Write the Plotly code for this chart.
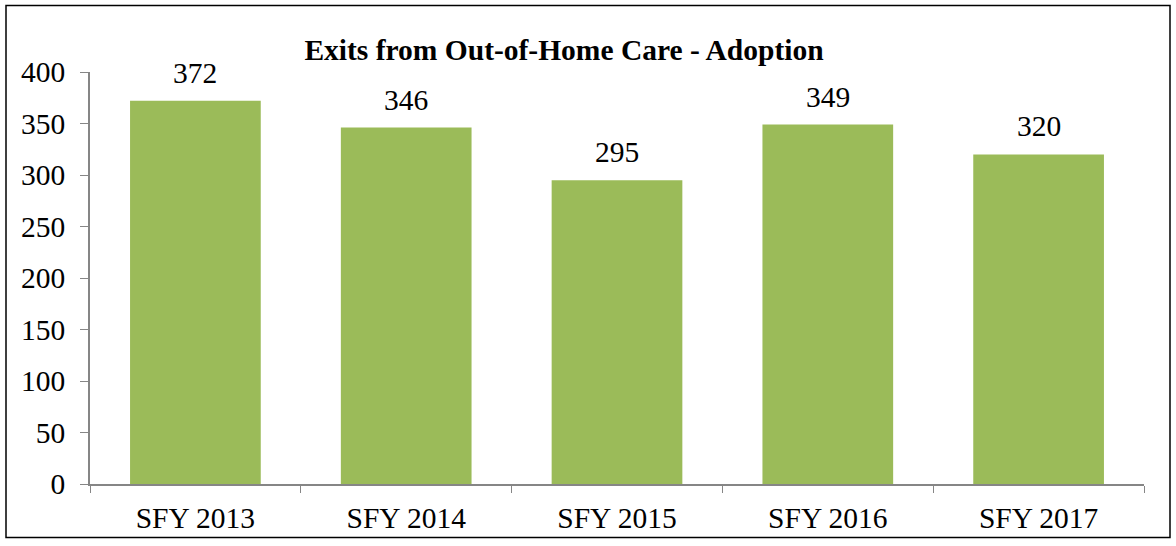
import plotly.graph_objects as go

categories = ["SFY 2013", "SFY 2014", "SFY 2015", "SFY 2016", "SFY 2017"]
values = [372, 346, 295, 349, 320]
title_text = "Exits from Out-of-Home Care - Adoption"

W, H = 1176, 546
L, R, T, B = 90, 32, 72, 59
pw, ph = W - L - R, H - T - B
FS = 29.5

fig = go.Figure(go.Bar(
    x=categories, y=values,
    marker=dict(color="#9BBB59", line=dict(width=0)),
    width=0.62,
    cliponaxis=False,
))

for c, v in zip(categories, values):
    fig.add_annotation(x=c, y=v, text=str(v), showarrow=False, yanchor="bottom",
                       yshift=10, font=dict(family="Liberation Serif", size=FS, color="black"))

fig.update_layout(
    width=W, height=H,
    margin=dict(l=L, r=R, t=T, b=B),
    paper_bgcolor="white", plot_bgcolor="white",
    showlegend=False,
    title=dict(text="<b>" + title_text + "</b>", x=564 / W, xanchor="center",
               y=1 - 50 / H, yanchor="middle",
               font=dict(family="Liberation Serif", size=FS, color="black")),
    xaxis=dict(showline=True, linecolor="#868686", linewidth=1.5,
               ticks="outside", tickson="boundaries", ticklen=7, tickcolor="#868686",
               tickfont=dict(family="Liberation Serif", size=FS, color="black"),
               ticklabelstandoff=7,
               showgrid=False, zeroline=False),
    yaxis=dict(range=[0, 400], dtick=50, showline=True, linecolor="#868686", linewidth=1.5,
               ticks="outside", ticklen=8, tickcolor="#868686",
               tickfont=dict(family="Liberation Serif", size=FS, color="black"),
               ticklabelstandoff=9,
               showgrid=False, zeroline=False),
    bargap=0.38,
)

# image border
fig.add_shape(type="rect", xref="paper", yref="paper",
              x0=(6 - L) / pw, x1=(W - 6 - L) / pw,
              y0=-(H - 5 - T - ph) / ph, y1=1 + (T - 5) / ph,
              line=dict(color="black", width=1.5), fillcolor="rgba(0,0,0,0)", layer="above")

fig.write_html("out.html", config={"displayModeBar": False},
               post_script="document.body.style.margin='0';document.body.style.overflow='hidden';")
